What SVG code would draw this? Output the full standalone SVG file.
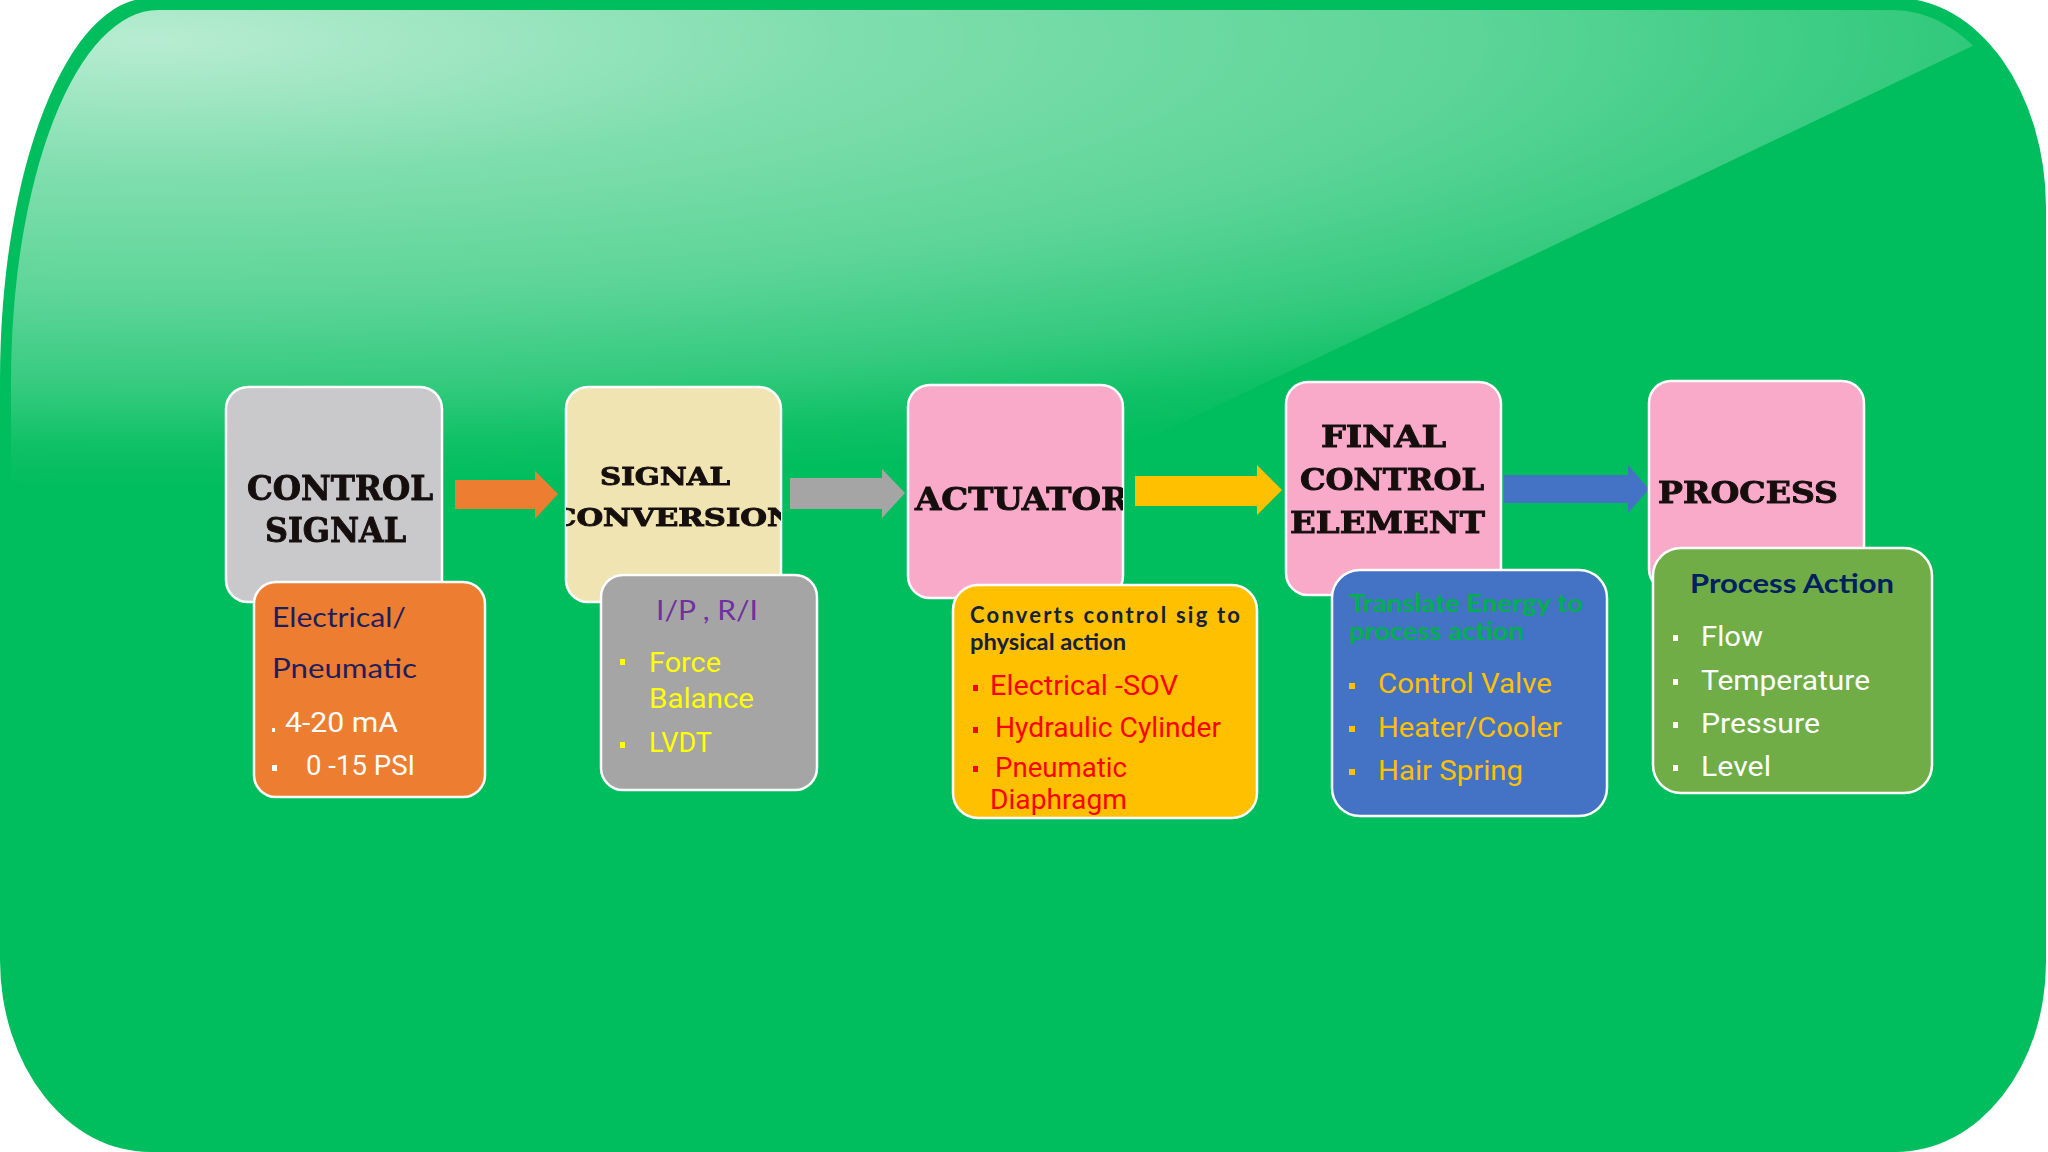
<svg xmlns="http://www.w3.org/2000/svg" width="2048" height="1152" viewBox="0 0 2048 1152">
<style>
.box{stroke:#ffffff;stroke-width:2.5}
.hd{font-family:"DejaVu Serif","Liberation Serif",serif;font-weight:bold;fill:#141010;stroke:#141010;stroke-width:0.9}
.body{font-family:Lato,"Open Sans","Liberation Sans",sans-serif}
.cond{font-family:Roboto,"Liberation Sans",sans-serif;font-size:28px}
.bold{font-family:Lato,"Open Sans","Liberation Sans",sans-serif;font-weight:bold}
</style>
<defs>
<radialGradient id="gloss" gradientUnits="userSpaceOnUse" cx="150" cy="40" r="2300" gradientTransform="translate(150,40) scale(1,0.1957) translate(-150,-40)">
<stop offset="0" stop-color="#ffffff" stop-opacity="0.72"/>
<stop offset="0.3" stop-color="#ffffff" stop-opacity="0.5"/>
<stop offset="0.58" stop-color="#ffffff" stop-opacity="0.36"/>
<stop offset="0.78" stop-color="#ffffff" stop-opacity="0.2"/>
<stop offset="0.9" stop-color="#ffffff" stop-opacity="0.06"/>
<stop offset="1" stop-color="#ffffff" stop-opacity="0"/>
</radialGradient>
<clipPath id="glossClip">
<polygon points="0,0 2048,0 2048,10 0,985"/>
</clipPath>
<clipPath id="cSig"><rect x="566" y="387" width="215" height="215" rx="22"/></clipPath>
<clipPath id="cAct"><rect x="908" y="385" width="215" height="213" rx="22"/></clipPath>
<filter id="soft" x="-5%" y="-20%" width="110%" height="140%"><feGaussianBlur stdDeviation="0.6"/></filter>
</defs>

<rect x="0" y="0" width="2048" height="1152" fill="#ffffff"/>
<g id="background">
<path d="M150,-2 H1895 A150 210 0 0 1 2046,208 V962 A150 190 0 0 1 1896,1152 H150 A150 192 0 0 1 0,960 V380 A150 382 0 0 1 150,-2 Z" fill="#00BD5D"/>
<path clip-path="url(#glossClip)" d="M158,10 H1890 A142 200 0 0 1 2034,210 V960 A140 180 0 0 1 1890,1142 H158 A140 180 0 0 1 11,960 V385 A147 372 0 0 1 158,10 Z" fill="url(#gloss)"/>
</g>

<g id="connectors">
<polygon points="455,480 535,480 535,471 558,494 535,519 535,509 455,509" fill="#ED7D31"/>
<polygon points="790,478 882,478 882,469 905,493 882,518 882,509 790,509" fill="#A5A5A5"/>
<polygon points="1135,476 1257,476 1257,465 1282,490 1257,515 1257,506 1135,506" fill="#FFC000"/>
<polygon points="1504,475 1628,475 1628,465 1649,489 1628,513 1628,503 1504,503" fill="#4472C4"/>
</g>

<g id="control-signal">
<rect class="box" x="226" y="387" width="216" height="215" rx="22" fill="#C9C9CB"/>
<g filter="url(#soft)">
<text class="hd" x="247" y="500" font-size="33" textLength="186" lengthAdjust="spacingAndGlyphs">CONTROL</text>
<text class="hd" x="265" y="542" font-size="33" textLength="141" lengthAdjust="spacingAndGlyphs">SIGNAL</text>
</g>
</g>
<g id="control-signal-detail">
<rect class="box" x="254" y="582" width="231" height="215" rx="22" fill="#ED7D31"/>
<text class="body" x="272" y="627" font-size="27" fill="#1C1F5E" textLength="134" lengthAdjust="spacingAndGlyphs">Electrical/</text>
<text class="body" x="272" y="678" font-size="27" fill="#1C1F5E" textLength="145" lengthAdjust="spacingAndGlyphs">Pneumatic</text>
<rect x="272" y="728" width="3" height="4" fill="#ffffff"/>
<text class="cond" x="285" y="732" fill="#ffffff" textLength="113" lengthAdjust="spacingAndGlyphs">4-20 mA</text>
<rect x="272" y="765" width="5" height="6" fill="#ffffff"/>
<text class="cond" x="306" y="775" fill="#ffffff" textLength="109" lengthAdjust="spacingAndGlyphs">0 -15 PSI</text>
</g>

<g id="signal-conversion">
<rect class="box" x="566" y="387" width="215" height="215" rx="22" fill="#F1E4B3"/>
<g filter="url(#soft)" clip-path="url(#cSig)">
<text class="hd" x="600" y="485" font-size="25" textLength="130" lengthAdjust="spacingAndGlyphs">SIGNAL</text>
<text class="hd" x="552" y="526" font-size="25" textLength="243" lengthAdjust="spacingAndGlyphs">CONVERSION</text>
</g>
</g>
<g id="signal-conversion-detail">
<rect class="box" x="601" y="575" width="216" height="215" rx="22" fill="#A5A5A5"/>
<text class="body" x="656" y="620" font-size="26" fill="#7030A0" textLength="102" lengthAdjust="spacingAndGlyphs">I/P , R/I</text>
<rect x="620" y="659" width="5" height="6" fill="#FFFF00"/>
<text class="cond" x="649" y="672" fill="#FFFF00" textLength="72" lengthAdjust="spacingAndGlyphs">Force</text>
<text class="cond" x="649" y="708" fill="#FFFF00" textLength="105" lengthAdjust="spacingAndGlyphs">Balance</text>
<rect x="620" y="742" width="5" height="6" fill="#FFFF00"/>
<text class="cond" x="649" y="752" fill="#FFFF00" textLength="63" lengthAdjust="spacingAndGlyphs">LVDT</text>
</g>

<g id="actuator">
<rect class="box" x="908" y="385" width="215" height="213" rx="22" fill="#F9AAC8"/>
<g filter="url(#soft)" clip-path="url(#cAct)">
<text class="hd" x="915" y="510" font-size="32" textLength="214" lengthAdjust="spacingAndGlyphs">ACTUATOR</text>
</g>
</g>
<g id="actuator-detail">
<rect class="box" x="953" y="585" width="304" height="233" rx="25" fill="#FFC000"/>
<text class="bold" x="970" y="623" font-size="22" fill="#14213D" textLength="270" lengthAdjust="spacing">Converts control sig to</text>
<text class="bold" x="970" y="650" font-size="22" fill="#14213D" textLength="156" lengthAdjust="spacingAndGlyphs">physical action</text>
<rect x="973" y="685" width="5" height="6" fill="#FF0000"/>
<text class="cond" x="990" y="695" fill="#FF0000" textLength="188" lengthAdjust="spacingAndGlyphs">Electrical -SOV</text>
<rect x="973" y="727" width="5" height="6" fill="#FF0000"/>
<text class="cond" x="995" y="737" fill="#FF0000" textLength="226" lengthAdjust="spacingAndGlyphs">Hydraulic Cylinder</text>
<rect x="973" y="766" width="5" height="6" fill="#FF0000"/>
<text class="cond" x="995" y="777" fill="#FF0000" textLength="132" lengthAdjust="spacingAndGlyphs">Pneumatic</text>
<text class="cond" x="990" y="809" fill="#FF0000" textLength="137" lengthAdjust="spacingAndGlyphs">Diaphragm</text>
</g>

<g id="final-control-element">
<rect class="box" x="1286" y="382" width="215" height="213" rx="22" fill="#F9AAC8"/>
<g filter="url(#soft)">
<text class="hd" x="1321" y="447" font-size="30" textLength="125" lengthAdjust="spacingAndGlyphs">FINAL</text>
<text class="hd" x="1300" y="490" font-size="30" textLength="184" lengthAdjust="spacingAndGlyphs">CONTROL</text>
<text class="hd" x="1290" y="533" font-size="30" textLength="195" lengthAdjust="spacingAndGlyphs">ELEMENT</text>
</g>
</g>
<g id="final-control-element-detail">
<rect class="box" x="1332" y="570" width="275" height="246" rx="28" fill="#4472C4"/>
<text class="bold" x="1349" y="612" font-size="25" fill="#00B050" textLength="234" lengthAdjust="spacingAndGlyphs">Translate Energy to</text>
<text class="bold" x="1349" y="640" font-size="25" fill="#00B050" textLength="175" lengthAdjust="spacingAndGlyphs">process action</text>
<rect x="1349" y="683" width="6" height="6" fill="#FFC000"/>
<text class="cond" x="1378" y="693" fill="#FFC000" textLength="174" lengthAdjust="spacingAndGlyphs">Control Valve</text>
<rect x="1349" y="726" width="6" height="6" fill="#FFC000"/>
<text class="cond" x="1378" y="737" fill="#FFC000" textLength="184" lengthAdjust="spacingAndGlyphs">Heater/Cooler</text>
<rect x="1349" y="769" width="6" height="6" fill="#FFC000"/>
<text class="cond" x="1378" y="780" fill="#FFC000" textLength="145" lengthAdjust="spacingAndGlyphs">Hair Spring</text>
</g>

<g id="process">
<rect class="box" x="1649" y="381" width="215" height="210" rx="22" fill="#F9AAC8"/>
<g filter="url(#soft)">
<text class="hd" x="1658" y="503" font-size="29" textLength="180" lengthAdjust="spacingAndGlyphs">PROCESS</text>
</g>
</g>
<g id="process-detail">
<rect class="box" x="1653" y="548" width="279" height="245" rx="28" fill="#70AD47"/>
<text class="bold" x="1690" y="593" font-size="27" fill="#002060" textLength="204" lengthAdjust="spacingAndGlyphs">Process Action</text>
<rect x="1673" y="635" width="5" height="6" fill="#ffffff"/>
<text class="cond" x="1701" y="646" fill="#ffffff" textLength="62" lengthAdjust="spacingAndGlyphs">Flow</text>
<rect x="1673" y="679" width="5" height="6" fill="#ffffff"/>
<text class="cond" x="1701" y="690" fill="#ffffff" textLength="169" lengthAdjust="spacingAndGlyphs">Temperature</text>
<rect x="1673" y="722" width="5" height="6" fill="#ffffff"/>
<text class="cond" x="1701" y="733" fill="#ffffff" textLength="119" lengthAdjust="spacingAndGlyphs">Pressure</text>
<rect x="1673" y="765" width="5" height="6" fill="#ffffff"/>
<text class="cond" x="1701" y="776" fill="#ffffff" textLength="70" lengthAdjust="spacingAndGlyphs">Level</text>
</g>
</svg>
